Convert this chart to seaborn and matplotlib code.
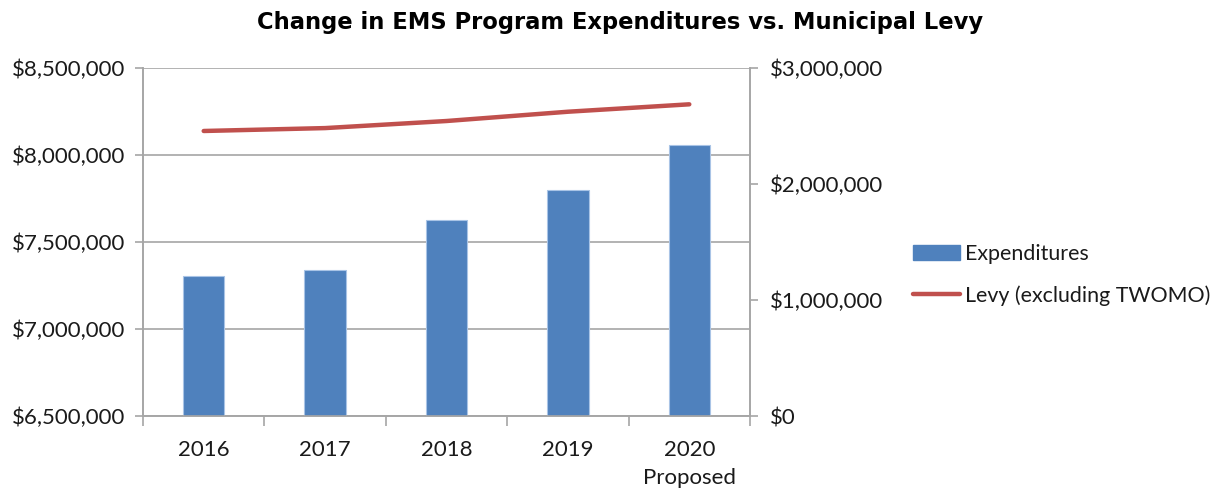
import matplotlib
matplotlib.use("Agg")
import matplotlib.pyplot as plt
import seaborn as sns
import pandas as pd
from matplotlib.ticker import FuncFormatter, MultipleLocator, FixedLocator
from matplotlib.lines import Line2D
from matplotlib.patches import Patch

years = ["2016", "2017", "2018", "2019", "2020\nProposed"]
expenditures = [7306000, 7339000, 7625000, 7797000, 8055000]
levy = [2457000, 2482000, 2543000, 2623000, 2687000]

title = "Change in EMS Program Expenditures vs. Municipal Levy"
bar_label = "Expenditures"
line_label = "Levy (excluding TWOMO)"

sns.set_theme(style="white")
plt.rcParams['font.family'] = ['Lato', 'DejaVu Sans']

df = pd.DataFrame({"year": years, "exp": expenditures, "levy": levy})

fig = plt.figure(figsize=(12.25, 4.9), dpi=100)
ax = fig.add_axes([143/1225, 74/490, (750-143)/1225, (416-68)/490])

bar_color = "#4F81BD"
line_color = "#C0504D"
grid_color = "#A6A6A6"
text_color = "#1a1a1a"
fs = 16
lfs = 15.4

sns.barplot(data=df, x="year", y="exp", color=bar_color, width=0.34,
            saturation=1, ax=ax, zorder=3, edgecolor="#A9C4E6", linewidth=0.8)
ax.set_ylim(6500000, 8500000)
ax.yaxis.set_major_locator(MultipleLocator(500000))
ax.yaxis.set_major_formatter(FuncFormatter(lambda v, p: f"${v:,.0f}"))
ax.set_xlim(-0.5, 4.5)
ax.set_xlabel("")
ax.set_ylabel("")
ax.grid(axis="y", color=grid_color, linewidth=1.2, zorder=0)
ax.set_axisbelow(True)

ax2 = ax.twinx()
sns.lineplot(x=list(range(len(years))), y=levy, color=line_color, linewidth=3.2,
             ax=ax2, zorder=4, solid_capstyle="round")
ax2.set_ylim(0, 3000000)
ax2.yaxis.set_major_locator(MultipleLocator(1000000))
ax2.yaxis.set_major_formatter(FuncFormatter(lambda v, p: f"${v:,.0f}"))
ax2.set_ylabel("")
ax2.set_xlim(-0.5, 4.5)

for a in (ax, ax2):
    for s in a.spines.values():
        s.set_color(grid_color)
        s.set_linewidth(1.2)
    a.spines["top"].set_visible(False)

ax.tick_params(axis="y", which="major", length=6, color=grid_color, width=1.2,
               labelsize=fs, labelcolor=text_color, pad=7, left=True)
ax2.tick_params(axis="y", which="major", length=6, color=grid_color, width=1.2,
                labelsize=fs, labelcolor=text_color, pad=8, right=True)
ax.tick_params(axis="x", which="major", length=0, labelsize=fs,
               labelcolor=text_color, pad=17)
ax.xaxis.set_minor_locator(FixedLocator([-0.5, 0.5, 1.5, 2.5, 3.5, 4.5]))
ax.tick_params(axis="x", which="minor", length=7, color=grid_color, width=1.2,
               bottom=True)
for lbl in ax.get_xticklabels():
    lbl.set_linespacing(1.55)
    lbl.set_verticalalignment("top")

handles = [Patch(facecolor=bar_color, edgecolor=bar_color, label=bar_label),
           Line2D([0], [0], color=line_color, linewidth=3.2, label=line_label)]
fig.legend(handles=handles, loc="center left", bbox_to_anchor=(913/1225, 1 - 275/490),
           frameon=False, fontsize=lfs, handlelength=2.2, handleheight=0.75,
           labelspacing=1.0, handletextpad=0.25, borderpad=0, borderaxespad=0,
           labelcolor=text_color)

fig.text(620/1225, 1 - 22/490, title, ha="center", va="center",
         fontsize=16.3, fontweight="bold", family=["DejaVu Sans"], color="#000000")

fig.savefig("out.png", dpi=100)
